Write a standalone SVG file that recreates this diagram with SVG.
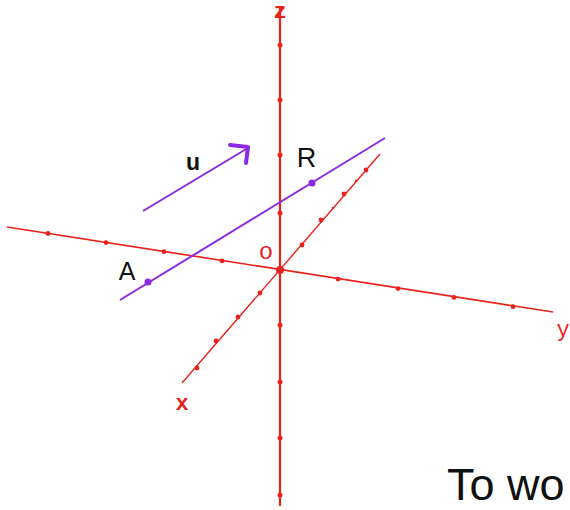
<svg xmlns="http://www.w3.org/2000/svg" width="570" height="510" viewBox="0 0 570 510">
<style>
.ax{stroke:#e8231e;fill:none}
.tk{fill:#e8231e}
.axl{font-family:"Liberation Mono","Courier New",monospace;fill:#e8231e}
.pl{stroke:#8a2be2;fill:none}
.lbl{font-family:"Liberation Sans",Arial,sans-serif;fill:#111}
</style>
<rect width="570" height="510" fill="#fff"/>
<g id="connectors">
  <line class="ax" x1="280" y1="8" x2="280" y2="506" stroke-width="2.2"/>
  <line class="ax" x1="7" y1="227" x2="553" y2="312" stroke-width="1.7"/>
  <line class="ax" x1="182" y1="383" x2="380" y2="154" stroke-width="1.4"/>
  <line class="pl" x1="120" y1="300" x2="385" y2="138" stroke-width="2"/>
  <line class="pl" x1="143" y1="211" x2="248" y2="148" stroke-width="2"/>
  <polyline class="pl" points="230,145 248,147 246,163" stroke-width="4" stroke-linecap="round" stroke-linejoin="round"/>
</g>
<g id="z-axis">
  <circle class="tk" cx="280" cy="45" r="2.5"/>
  <circle class="tk" cx="280" cy="100" r="2.5"/>
  <circle class="tk" cx="280" cy="155" r="2.5"/>
  <circle class="tk" cx="280" cy="213" r="2.5"/>
  <circle class="tk" cx="280" cy="325" r="2.5"/>
  <circle class="tk" cx="280" cy="382" r="2.5"/>
  <circle class="tk" cx="280" cy="438" r="2.5"/>
  <circle class="tk" cx="280" cy="495" r="2.5"/>
  <text class="axl" x="280" y="18" font-size="22" font-weight="bold" text-anchor="middle">z</text>
</g>
<g id="y-axis">
  <circle class="tk" cx="48" cy="233.5" r="2.4"/>
  <circle class="tk" cx="106" cy="242.6" r="2.4"/>
  <circle class="tk" cx="164" cy="251.7" r="2.4"/>
  <circle class="tk" cx="222" cy="260.9" r="2.4"/>
  <circle class="tk" cx="338" cy="279.1" r="2.4"/>
  <circle class="tk" cx="398" cy="288.6" r="2.4"/>
  <circle class="tk" cx="454" cy="297.4" r="2.4"/>
  <circle class="tk" cx="513" cy="306.7" r="2.4"/>
  <text class="axl" x="563" y="336" font-size="22" text-anchor="middle">y</text>
</g>
<g id="x-axis">
  <circle class="tk" cx="260" cy="293" r="2.4"/>
  <circle class="tk" cx="238" cy="317" r="2.4"/>
  <circle class="tk" cx="216" cy="341" r="2.4"/>
  <circle class="tk" cx="197" cy="368" r="2.4"/>
  <circle class="tk" cx="302" cy="245" r="2.4"/>
  <circle class="tk" cx="321" cy="220" r="2.4"/>
  <circle class="tk" cx="344" cy="194" r="2.4"/>
  <circle class="tk" cx="366" cy="170" r="2.4"/>
  <circle class="tk" cx="333" cy="208" r="1.3"/>
  <circle class="tk" cx="356" cy="181" r="1.3"/>
  <text class="axl" x="182" y="410" font-size="22" font-weight="bold" text-anchor="middle">x</text>
</g>
<g id="origin">
  <circle class="tk" cx="280" cy="270" r="4"/>
  <text class="axl" x="266" y="259" font-size="24" text-anchor="middle">o</text>
</g>
<g id="point-A">
  <circle cx="148" cy="282" r="3.5" fill="#8a2be2"/>
  <text class="lbl" x="127" y="280" font-size="25" text-anchor="middle">A</text>
</g>
<g id="point-R">
  <circle cx="312" cy="183" r="3.5" fill="#8a2be2"/>
  <text class="lbl" x="306.5" y="167" font-size="27" text-anchor="middle">R</text>
</g>
<g id="vector-u">
  <text class="lbl" x="193" y="170" font-size="23" font-weight="bold" text-anchor="middle">u</text>
</g>
<text class="lbl" x="447" y="500" font-size="45">To wo</text>
</svg>
